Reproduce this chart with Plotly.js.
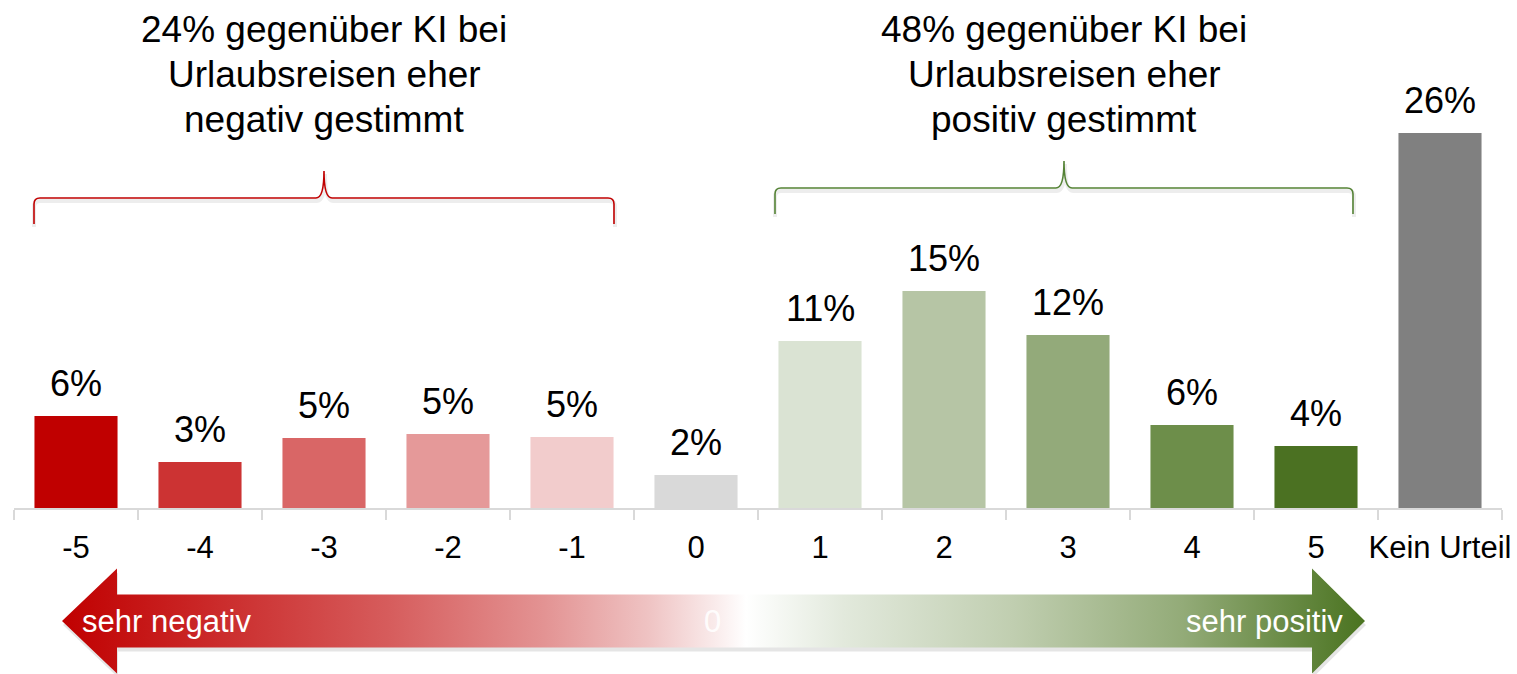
<!DOCTYPE html>
<html>
<head>
<meta charset="utf-8">
<script src="https://cdn.plot.ly/plotly-3.0.1.min.js"></script>
<style>
  html, body { margin: 0; padding: 0; background: #ffffff; }
  #chart { width: 1517px; height: 674px; }
</style>
</head>
<body>
<div id="chart"></div>
<script>
// ---- data ----
const categories = ['-5', '-4', '-3', '-2', '-1', '0', '1', '2', '3', '4', '5', 'Kein Urteil'];
const values = [6.3, 3.15, 4.8, 5.07, 4.86, 2.26, 11.44, 14.86, 11.85, 5.68, 4.25, 25.68];
const barColors = ['#c00000', '#cc3333', '#d96666', '#e59999', '#f2cccc', '#d9d9d9',
                   '#dae3d3', '#b6c5a5', '#93aa7a', '#6d8e4a', '#4b7122', '#808080'];
const headerNegative = ['24% gegenüber KI bei', 'Urlaubsreisen eher', 'negativ gestimmt'];
const headerPositive = ['48% gegenüber KI bei', 'Urlaubsreisen eher', 'positiv gestimmt'];
const scaleLabels = ['sehr negativ', '0', 'sehr positiv'];

// ---- layout constants (pixels) ----
const W = 1517, H = 674;
const plotL = 14, plotR = 1502, baseY = 508;
const pxPerPct = 14.6;
const FONT = 'Liberation Sans, Arial, sans-serif';

const bars = {
  type: 'bar',
  x: categories,
  y: values,
  marker: { color: barColors, line: { width: 0 } },
  width: 0.67,
  hoverinfo: 'skip',
  xaxis: 'x', yaxis: 'y'
};

// decorative arrow (pixel coordinates on overlay axes)
const cy = 621, headH = 52.5, bodyH = 26.5;
const ax = [62, 117, 117, 1312, 1312, 1365, 1312, 1312, 117, 117, 62];
const ay = [cy, cy - headH, cy - bodyH, cy - bodyH, cy - headH, cy, cy + headH, cy + bodyH, cy + bodyH, cy + headH, cy];
const arrowShadow = {
  type: 'scatter', mode: 'lines',
  x: ax.map(v => v + 1), y: ay.map(v => v + 4),
  fill: 'toself', fillcolor: 'rgba(0,0,0,0.10)', line: { width: 0 },
  hoverinfo: 'skip', xaxis: 'x2', yaxis: 'y2', showlegend: false
};
const arrow = {
  type: 'scatter', mode: 'lines',
  x: ax, y: ay,
  fill: 'toself',
  fillgradient: {
    type: 'horizontal',
    colorscale: [[0, '#c00000'], [0.1, '#c92424'], [0.25, '#d65c5c'], [0.37, '#e39393'],
                 [0.45, '#efc3c3'], [0.5, '#f9eaea'], [0.525, '#ffffff'], [0.6, '#e2e9dc'],
                 [0.73, '#c0ceb0'], [0.86, '#93ab78'], [1, '#4a7320']]
  },
  line: { width: 0 },
  hoverinfo: 'skip', xaxis: 'x2', yaxis: 'y2', showlegend: false
};

function brace(x0, x1, xc, yb, yh, yt) {
  const r = 6, c = 8;
  return `M${x0},${yb} L${x0},${yh + r} Q${x0},${yh} ${x0 + r},${yh} L${xc - c},${yh} ` +
         `Q${xc},${yh} ${xc},${yt} Q${xc},${yh} ${xc + c},${yh} L${x1 - r},${yh} ` +
         `Q${x1},${yh} ${x1},${yh + r} L${x1},${yb}`;
}
const redBrace = { x0: 34, x1: 614, xc: 324, yb: 224, yh: 198, yt: 171 };
const greenBrace = { x0: 775, x1: 1353, xc: 1064, yb: 214, yh: 188, yt: 161 };

const shapes = [];
[[redBrace, '#c00000'], [greenBrace, '#548235']].forEach(([b, col]) => {
  shapes.push({ type: 'path', xref: 'x2', yref: 'y2',
    path: brace(b.x0, b.x1 + 1, b.xc + 1, b.yb + 3, b.yh + 3, b.yt + 3),
    line: { color: 'rgba(0,0,0,0.07)', width: 4 } });
  shapes.push({ type: 'path', xref: 'x2', yref: 'y2',
    path: brace(b.x0, b.x1, b.xc, b.yb, b.yh, b.yt),
    line: { color: col, width: 1.6 } });
});

const annotations = [];
// value labels above bars (x given as category index)
categories.forEach((c, i) => {
  annotations.push({
    xref: 'x', yref: 'y', x: i, y: values[i],
    text: Math.round(values[i]) + '%',
    showarrow: false, yanchor: 'bottom', xanchor: 'center', yshift: 10,
    font: { family: FONT, size: 36, color: '#000000' }
  });
});
// headers, one annotation per line
const lineYs = [29, 74, 119];
[[headerNegative, redBrace.xc], [headerPositive, greenBrace.xc]].forEach(([lines, xc]) => {
  lines.forEach((t, k) => {
    annotations.push({
      xref: 'x2', yref: 'y2', x: xc, y: lineYs[k],
      text: t,
      showarrow: false, xanchor: 'center', yanchor: 'middle', align: 'center',
      font: { family: FONT, size: 37, color: '#000000' }
    });
  });
});
// arrow labels
annotations.push({ xref: 'x2', yref: 'y2', x: 80, y: cy, text: scaleLabels[0], showarrow: false,
  xanchor: 'left', yanchor: 'middle', font: { family: FONT, size: 31, color: '#ffffff' } });
annotations.push({ xref: 'x2', yref: 'y2', x: 712, y: cy, text: scaleLabels[1], showarrow: false,
  xanchor: 'center', yanchor: 'middle', font: { family: FONT, size: 31, color: 'rgba(255,255,255,0.9)' } });
annotations.push({ xref: 'x2', yref: 'y2', x: 1345, y: cy, text: scaleLabels[2], showarrow: false,
  xanchor: 'right', yanchor: 'middle', font: { family: FONT, size: 31, color: '#ffffff' } });

const layout = {
  width: W, height: H,
  margin: { l: 0, r: 0, t: 0, b: 0, pad: 0 },
  paper_bgcolor: '#ffffff',
  plot_bgcolor: 'rgba(0,0,0,0)',
  showlegend: false,
  font: { family: FONT, color: '#000000' },
  xaxis: {
    domain: [plotL / W, plotR / W],
    type: 'category', range: [-0.5, categories.length - 0.5],
    tickson: 'boundaries', ticks: 'outside', ticklen: 10, tickwidth: 2, tickcolor: '#d9d9d9',
    showline: true, linecolor: '#d9d9d9', linewidth: 2,
    showgrid: false, zeroline: false,
    tickangle: 0,
    tickfont: { family: FONT, size: 31, color: '#000000' },
    ticklabelstandoff: 11,
    fixedrange: true, anchor: 'y'
  },
  yaxis: {
    domain: [(H - baseY) / H, 1],
    range: [0, baseY / pxPerPct],
    visible: false, showgrid: false, zeroline: false, fixedrange: true, anchor: 'x'
  },
  xaxis2: { domain: [0, 1], range: [0, W], visible: false, fixedrange: true, anchor: 'y2' },
  yaxis2: { domain: [0, 1], range: [H, 0], visible: false, fixedrange: true, anchor: 'x2' },
  shapes: shapes,
  annotations: annotations
};

Plotly.newPlot('chart', [arrowShadow, arrow, bars], layout, { displayModeBar: false, staticPlot: true });
</script>
</body>
</html>
